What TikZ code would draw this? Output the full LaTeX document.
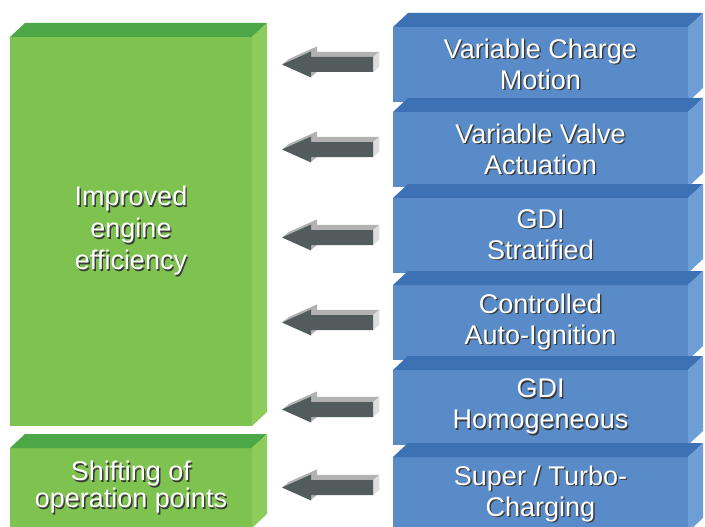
\documentclass[tikz,border=0pt]{standalone}
\usepackage{fontspec}
\setmainfont{Liberation Sans}
\usetikzlibrary{calc}

\definecolor{blueFront}{HTML}{598BC9}
\definecolor{blueTop}{HTML}{3C71B3}
\definecolor{blueSide}{HTML}{6E9ED6}
\definecolor{greenFront}{HTML}{7EC250}
\definecolor{greenTop}{HTML}{4CA846}
\definecolor{greenSide}{HTML}{8DCC5B}
\definecolor{arrowDark}{HTML}{525C5C}
\definecolor{arrowLight}{HTML}{B2B2B2}
\definecolor{arrowEnd}{HTML}{DDDDDD}
\definecolor{txtShadow}{HTML}{3A3A3A}

% white text with a dark shadow
\newcommand{\shline}[1]{\leavevmode\rlap{\kern1.3pt\raisebox{-1.3pt}{\textcolor{txtShadow}{#1}}}#1}

% top and right faces of a box whose front is node #1
\newcommand{\boxsides}[3]{%
  \fill[#2] (#1.north west) -- ++(15,-14) -- ($(#1.north east)+(15,-14)$) -- (#1.north east) -- cycle;
  \fill[#3] (#1.north east) -- ++(15,-14) -- ($(#1.south east)+(15,-14)$) -- (#1.south east) -- cycle;
}

\tikzset{
  blockarrow/.pic={
    \foreach \s in {1,...,6}
      \fill[arrowLight, shift={(\s,-0.85*\s)}] (0,0) -- (29,-13) -- (29,-7.5) -- (91,-7.5) -- (91,7.5) -- (29,7.5) -- (29,13) -- cycle;
    \fill[arrowEnd] (91,-7.5) -- (97,-12.6) -- (97,2.4) -- (91,7.5) -- cycle;
    \fill[arrowDark] (0,0) -- (29,-13) -- (29,-7.5) -- (91,-7.5) -- (91,7.5) -- (29,7.5) -- (29,13) -- cycle;
  }
}

\begin{document}
\begin{tikzpicture}[x=1pt, y=-1pt,
    front/.style={inner sep=0pt, outer sep=0pt, align=center, text=white,
      font=\fontsize{27}{31}\selectfont},
    bluebox/.style={front, fill=blueFront, minimum width=295pt, minimum height=75pt},
    greenbox/.style={front, fill=greenFront, minimum width=242pt}]

    \clip (0,0) rectangle (705,527);

    % green boxes
    \node[greenbox, minimum height=389pt, font=\fontsize{27}{32}\selectfont] (eff) at (131, 231.5)
        {\shline{Improved}\\\shline{engine}\\\shline{efficiency}};
    \boxsides{eff}{greenTop}{greenSide}

    \node[greenbox, minimum height=80pt, font=\fontsize{27}{27}\selectfont] (shift) at (131, 488)
        {\shline{Shifting of}\\\shline{operation points}};
    \boxsides{shift}{greenTop}{greenSide}

    % blue boxes
    \node[bluebox] (vcm) at (540.5, 64.5) {\shline{Variable Charge}\\\shline{Motion}};
    \boxsides{vcm}{blueTop}{blueSide}

    \node[bluebox] (vva) at (540.5, 149.5) {\shline{Variable Valve}\\\shline{Actuation}};
    \boxsides{vva}{blueTop}{blueSide}

    \node[bluebox] (gdis) at (540.5, 235.5) {\shline{GDI}\\\shline{Stratified}};
    \boxsides{gdis}{blueTop}{blueSide}

    \node[bluebox] (cai) at (540.5, 322.5) {\shline{Controlled}\\\shline{Auto-Ignition}};
    \boxsides{cai}{blueTop}{blueSide}

    \node[bluebox] (gdih) at (540.5, 407.5) {\shline{GDI}\\\shline{Homogeneous}};
    \boxsides{gdih}{blueTop}{blueSide}

    \node[bluebox] (turbo) at (540.5, 494.5) {\shline{Super / Turbo-}\\\shline{Charging}};
    \boxsides{turbo}{blueTop}{blueSide}

    % arrows
    \pic at ($(vcm.west)+(-111,0)$) {blockarrow};
    \pic at ($(vva.west)+(-111,0)$) {blockarrow};
    \pic at ($(gdis.west)+(-111,2)$) {blockarrow};
    \pic at ($(cai.west)+(-111,0)$) {blockarrow};
    \pic at ($(gdih.west)+(-111,2)$) {blockarrow};
    \pic at ($(turbo.west)+(-111,-7)$) {blockarrow};

\end{tikzpicture}
\end{document}
